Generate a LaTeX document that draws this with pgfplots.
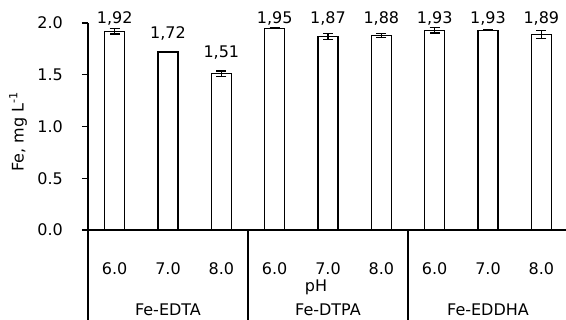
\documentclass[border=0pt]{standalone}
\usepackage{fontspec}
\setmainfont{DejaVu Sans}
\usepackage{pgfplots}
\pgfplotsset{compat=1.18}
\usepackage{pgfplotstable}

\pgfplotstableread{
x y err ly
0 1.92 0.025 2.048
1 1.72 0.005 1.903
2 1.51 0.025 1.71
3 1.95 0.005 2.048
4 1.87 0.027 2.048
5 1.88 0.020 2.048
6 1.93 0.027 2.048
7 1.93 0.005 2.048
8 1.89 0.040 2.048
}\datatable

\begin{document}
\fontsize{16}{19}\selectfont
\begin{tikzpicture}
\begin{axis}[
  scale only axis, width=478pt, height=207pt,
  xmin=-0.5, xmax=8.4625, ymin=0, ymax=2,
  axis lines*=left,
  axis line style={line width=1.3pt, black},
  clip=false,
  /pgf/number format/assume math mode=true,
  ytick={0,0.5,1,1.5,2},
  yticklabel style={/pgf/number format/fixed, /pgf/number format/fixed zerofill, /pgf/number format/precision=1,
    anchor=east, inner sep=0pt, xshift=-19pt},
  y tick style={line width=1.3pt, black},
  tick align=outside, major tick length=6pt,
  xtick={0,...,8},
  xticklabels={6.0,7.0,8.0,6.0,7.0,8.0,6.0,7.0,8.0},
  x tick style={draw=none},
  xticklabel style={anchor=center, inner sep=0pt, yshift=-33pt},
  ylabel={Fe, mg L\textsuperscript{-1}},
  ylabel style={at={(rel axis cs:0,0.474)}, anchor=center, yshift=70pt},
]
\addplot[ybar, bar width=20pt, fill=white, draw=black, line width=1.3pt,
  error bars/.cd, y dir=both, y explicit,
  error bar style={line width=1.3pt, black},
  error mark options={rotate=90, line width=1.3pt, mark size=5pt, black}]
  table[x=x, y=y, y error=err] {\datatable};
\addplot[draw=none, mark=none, point meta=explicit,
  nodes near coords={\pgfmathprintnumber[fixed,fixed zerofill,precision=2,use comma,assume math mode=true]{\pgfplotspointmeta}},
  every node near coord/.append style={anchor=center, inner sep=0pt}]
  table[x=x, y=ly, meta=y] {\datatable};
\draw[line width=1.3pt] (axis cs:-0.5,0) -- ([yshift=-92pt]axis cs:-0.5,0);
\draw[line width=1.3pt] (axis cs:2.5,0) -- ([yshift=-92pt]axis cs:2.5,0);
\draw[line width=1.3pt] (axis cs:5.5,0) -- ([yshift=-92pt]axis cs:5.5,0);
\node[anchor=center] at ([yshift=-57pt]axis cs:3.775,0) {pH};
\node[anchor=base, inner sep=0pt] at ([yshift=-86pt]axis cs:1,0) {Fe-EDTA};
\node[anchor=base, inner sep=0pt] at ([yshift=-86pt]axis cs:4,0) {Fe-DTPA};
\node[anchor=base, inner sep=0pt] at ([yshift=-86pt]axis cs:7,0) {Fe-EDDHA};
\end{axis}
\pgfresetboundingbox
\path[use as bounding box] (-88pt,-90pt) rectangle (478pt,230pt);
\end{tikzpicture}
\end{document}
